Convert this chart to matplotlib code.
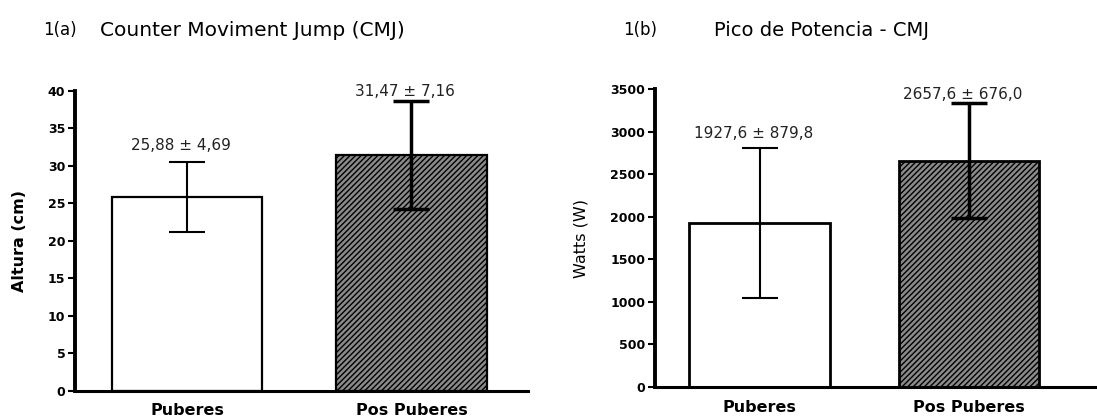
import matplotlib
matplotlib.use("Agg")
import matplotlib.pyplot as plt

plt.rcParams["font.family"] = ["DejaVu Sans"]
plt.rcParams["hatch.linewidth"] = 1.0

# ── Data ─────────────────────────────────────────────────────────────────────
groups = ["Puberes", "Pos Puberes"]

cmj_mean = [25.88, 31.47]
cmj_sd = [4.69, 7.16]
cmj_labels = ["25,88 ± 4,69", "31,47 ± 7,16"]
cmj_ticks = [0, 5, 10, 15, 20, 25, 30, 35, 40]

pot_mean = [1927.6, 2657.6]
pot_sd = [879.8, 676.0]
pot_labels = ["1927,6 ± 879,8", "2657,6 ± 676,0"]
pot_ticks = [0, 500, 1000, 1500, 2000, 2500, 3000, 3500]

FILLS = ["white", "#8a8a8a"]
HATCHES = [None, "//////"]


def draw_panel(ax, means, sds, labels, ticks, ylabel, xmax, lw, label_dy,
               ylab_weight):
    pos = list(range(len(means)))
    bars = ax.bar(pos, means, width=0.67, color=FILLS, edgecolor="black",
                  linewidth=lw, zorder=2)
    for b, h in zip(bars, HATCHES):
        if h:
            b.set_hatch(h)
    for i, (m, s) in enumerate(zip(means, sds)):
        ax.errorbar(i, m, yerr=s, color="black", capsize=13,
                    elinewidth=1.5 + i * 1.0, capthick=1.5 + i * 1.0, zorder=3)
        ax.text(i - 0.03, m + s + label_dy[i], labels[i], ha="center",
                va="center", fontsize=11, color="#222222")
    ax.set_xlim(-0.5, xmax)
    ax.set_ylim(0, ticks[-1])
    ax.set_yticks(ticks)
    ax.set_xticks(pos)
    ax.set_xticklabels(groups, fontsize=11.5, fontweight="bold")
    ax.set_ylabel(ylabel, fontsize=11.5, fontweight=ylab_weight)
    for sp in ["top", "right"]:
        ax.spines[sp].set_visible(False)
    ax.spines["left"].set_linewidth(2.8)
    ax.spines["bottom"].set_linewidth(2.2)
    ax.tick_params(axis="y", direction="out", length=5, width=1.5,
                   labelsize=9, pad=2)
    ax.tick_params(axis="x", length=0, pad=9)
    for t in ax.get_yticklabels():
        t.set_fontweight("bold")


fig = plt.figure(figsize=(10.97, 4.18), dpi=100)

ax1 = fig.add_axes([0.0684, 0.0646, 0.413, 0.718])
draw_panel(ax1, cmj_mean, cmj_sd, cmj_labels, cmj_ticks, "Altura (cm)",
           1.52, 1.6, [2.2, 1.3], "bold")
ax1.yaxis.set_label_coords(-0.105, 0.5)

ax2 = fig.add_axes([0.597, 0.074, 0.403, 0.713])
draw_panel(ax2, pot_mean, pot_sd, pot_labels, pot_ticks, "Watts (W)",
           1.61, 2.0, [170, 100], "normal")
ax2.yaxis.set_label_coords(-0.15, 0.5)

fig.text(43 / 1097, 1 - 30 / 418, "1(a)", fontsize=12, va="center")
fig.text(100 / 1097, 1 - 30 / 418, "Counter Moviment Jump (CMJ)",
         fontsize=14.5, va="center")
fig.text(623 / 1097, 1 - 30 / 418, "1(b)", fontsize=12, va="center")
fig.text(714 / 1097, 1 - 30 / 418, "Pico de Potencia - CMJ",
         fontsize=14, va="center")

fig.savefig("out.png", dpi=100)
